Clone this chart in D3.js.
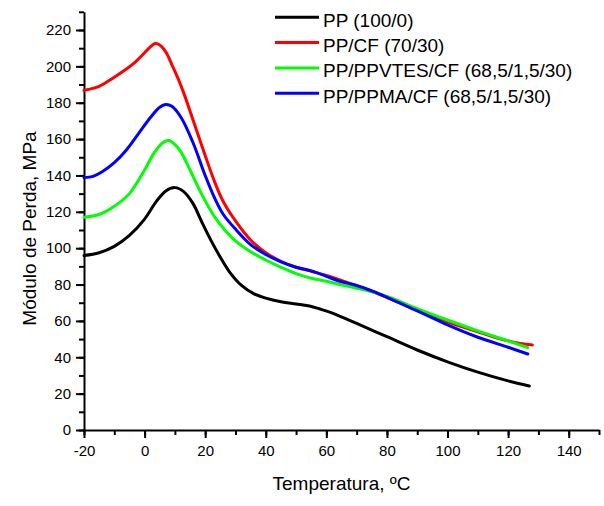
<!DOCTYPE html>
<html>
<head>
<meta charset="utf-8">
<script src="https://cdn.jsdelivr.net/npm/d3@7/dist/d3.min.js"></script>
<style>
  html, body { margin: 0; padding: 0; background: #fff; }
  svg { display: block; font-family: "Liberation Sans", Arial, sans-serif; }
</style>
</head>
<body>
<svg id="chart" width="604" height="506"></svg>
<script>
// Loss modulus (MPa) vs temperature (ºC) for the four compositions
const seriesNames = [
  "PP (100/0)",
  "PP/CF (70/30)",
  "PP/PPVTES/CF (68,5/1,5/30)",
  "PP/PPMA/CF (68,5/1,5/30)"
];
const seriesColors = ["#000000", "#ff0000", "#00ff00", "#0000ff"];

const ppTemp = [-20, -15, -10, -5, 0, 4, 7, 10, 13, 16, 19, 22, 25, 28, 32, 36, 40, 45, 50, 54, 58, 62, 66, 70, 80, 90, 100, 110, 120, 127];
const ppVal  = [96, 97.5, 101, 107, 116, 126, 131.5, 133.3, 131, 124.5, 114, 104, 95, 87, 79.5, 75, 72.5, 70.5, 69.3, 68.3, 66.5, 64.3, 61.5, 58.6, 51.3, 44, 37.5, 31.8, 27, 24.2];

const cfTemp = [-20, -15, -10, -6, -3, 0, 2, 3.5, 5, 7, 9, 11, 13, 16, 20, 23, 26, 30, 35, 40, 45, 50, 55, 60, 65, 70, 75, 80, 90, 100, 110, 115, 120, 124, 128];
const cfVal  = [186.8, 189, 194, 198.5, 202.5, 207.5, 210.8, 212.6, 211.8, 208, 201, 193.5, 185, 170.5, 151, 137, 125.5, 115, 104.5, 97.5, 92.8, 89.5, 87.3, 85, 82.3, 79.3, 76.3, 73, 66, 59.5, 54, 51.3, 49, 47.6, 46.8];

const vtesTemp = [-20, -15, -10, -5, 0, 3, 6, 8, 10, 12, 14, 16, 18, 20, 23, 26, 30, 35, 40, 45, 50, 55, 60, 65, 70, 75, 80, 90, 100, 110, 120, 126.5];
const vtesVal  = [117, 118.5, 123, 130, 143, 152, 158, 159.2, 157, 153, 146.5, 139.5, 132.5, 126, 117.5, 111, 104, 98, 93.5, 89.5, 86, 83.5, 81.8, 79.8, 78, 76, 73.5, 66.8, 60.5, 54.5, 49, 45.3];

const ppmaTemp = [-20, -17, -14, -10, -6, -2, 2, 5, 7, 9, 12, 16, 20, 23, 26, 30, 35, 40, 45, 50, 55, 60, 65, 70, 75, 80, 90, 100, 110, 120, 126.5];
const ppmaVal  = [138.8, 139.5, 142, 147, 154, 163, 172, 177.5, 179, 178, 172, 158, 140, 128, 118.5, 110.5, 102, 96.5, 92.5, 89.5, 87.5, 84.5, 81.5, 79.5, 76.5, 73, 65.5, 57.8, 51, 45.5, 41.8];

const xTicks = [-20, 0, 20, 40, 60, 80, 100, 120, 140];
const yTicks = [0, 20, 40, 60, 80, 100, 120, 140, 160, 180, 200, 220];
const xMinor = d3.range(-20, 151, 10);
const yMinor = d3.range(0, 231, 10);

const xLabel = "Temperatura, ºC";
const yLabel = "Módulo de Perda, MPa";

const seriesData = [
  [ppTemp, ppVal],
  [cfTemp, cfVal],
  [vtesTemp, vtesVal],
  [ppmaTemp, ppmaVal]
].map(([t, v]) => t.map((x, i) => ({ x, y: v[i] })));

const svg = d3.select("#chart");

const x = d3.scaleLinear().domain([-20, 150]).range([84, 599]);
const y = d3.scaleLinear().domain([0, 230]).range([430, 11.8]);

// plain hyphen-minus for negative tick labels
const fmt = d => String(d);

// minor ticks
svg.append("g")
  .attr("transform", "translate(0,430)")
  .call(d3.axisBottom(x).tickValues(xMinor).tickSize(5).tickFormat(""))
  .call(g => g.select(".domain").remove())
  .call(g => g.selectAll("line").attr("stroke", "#000").attr("stroke-width", 2));
svg.append("g")
  .attr("transform", "translate(84,0)")
  .call(d3.axisLeft(y).tickValues(yMinor).tickSize(5).tickFormat(""))
  .call(g => g.select(".domain").remove())
  .call(g => g.selectAll("line").attr("stroke", "#000").attr("stroke-width", 2));

// major axes
const xAxis = svg.append("g")
  .attr("transform", "translate(0,430)")
  .call(d3.axisBottom(x).tickValues(xTicks).tickSize(8).tickSizeOuter(0).tickPadding(7).tickFormat(fmt));
const yAxis = svg.append("g")
  .attr("transform", "translate(84,0)")
  .call(d3.axisLeft(y).tickValues(yTicks).tickSize(8).tickSizeOuter(0).tickPadding(5).tickFormat(fmt));

[xAxis, yAxis].forEach(g => {
  g.select(".domain").attr("stroke", "#000").attr("stroke-width", 2);
  g.selectAll(".tick line").attr("stroke", "#000").attr("stroke-width", 2);
  g.selectAll(".tick text")
    .attr("fill", "#000")
    .style("font-size", "15px")
    .style("font-family", "'Liberation Sans', Arial, sans-serif");
});

// axis titles
svg.append("text")
  .attr("x", 341.5).attr("y", 490)
  .attr("text-anchor", "middle")
  .style("font-size", "19px")
  .attr("fill", "#000")
  .text(xLabel);

svg.append("text")
  .attr("transform", "translate(36,228.5) rotate(-90)")
  .attr("text-anchor", "middle")
  .style("font-size", "19px")
  .attr("fill", "#000")
  .text(yLabel);

// curves
const line = d3.line()
  .x(d => x(d.x))
  .y(d => y(d.y))
  .curve(d3.curveCatmullRom.alpha(0.5));

svg.append("g")
  .selectAll("path")
  .data(seriesData)
  .join("path")
  .attr("d", line)
  .attr("fill", "none")
  .attr("stroke", (d, i) => seriesColors[i])
  .attr("stroke-width", 3)
  .attr("stroke-linejoin", "round")
  .attr("stroke-linecap", "round");

// legend
const legend = svg.append("g");
const rows = legend.selectAll("g")
  .data(seriesNames)
  .join("g")
  .attr("transform", (d, i) => `translate(275,${17.3 + i * 25.3})`);
rows.append("line")
  .attr("x1", 0).attr("x2", 44)
  .attr("y1", 0).attr("y2", 0)
  .attr("stroke", (d, i) => seriesColors[i])
  .attr("stroke-width", 3);
rows.append("text")
  .attr("x", 48).attr("y", 9.5)
  .style("font-size", "19px")
  .attr("fill", "#000")
  .text(d => d);
</script>
</body>
</html>
